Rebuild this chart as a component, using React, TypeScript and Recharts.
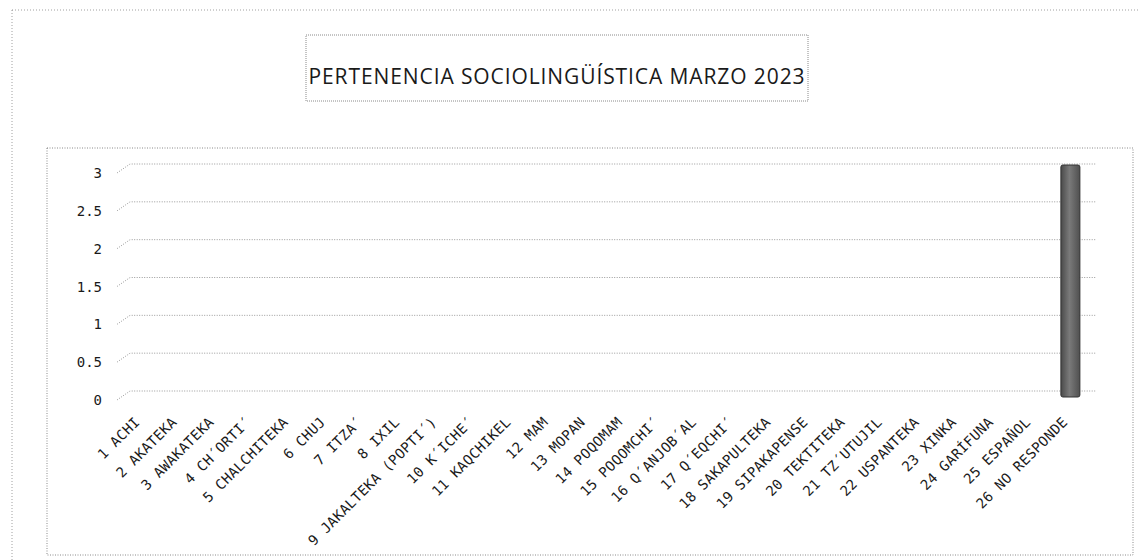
import { BarChart, Bar, XAxis, YAxis, CartesianGrid } from 'recharts'

const CATEGORIES = [
  '1 ACHI',
  '2 AKATEKA',
  '3 AWAKATEKA',
  '4 CH´ORTI´',
  '5 CHALCHITEKA',
  '6 CHUJ',
  '7 ITZA´',
  '8 IXIL',
  '9 JAKALTEKA (POPTI´)',
  '10 K´ICHE´',
  '11 KAQCHIKEL',
  '12 MAM',
  '13 MOPAN',
  '14 POQOMAM',
  '15 POQOMCHI´',
  '16 Q´ANJOB´AL',
  '17 Q´EQCHI´',
  '18 SAKAPULTEKA',
  '19 SIPAKAPENSE',
  '20 TEKTITEKA',
  '21 TZ´UTUJIL',
  '22 USPANTEKA',
  '23 XINKA',
  '24 GARÍFUNA',
  '25 ESPAÑOL',
  '26 NO RESPONDE',
]

const VALUES = [0, 0, 0, 0, 0, 0, 0, 0, 0, 0, 0, 0, 0, 0, 0, 0, 0, 0, 0, 0, 0, 0, 0, 0, 0, 3]

const Y_TICKS = [0, 0.5, 1, 1.5, 2, 2.5, 3]

const TITLE = 'PERTENENCIA SOCIOLINGÜÍSTICA MARZO 2023'

const data = CATEGORIES.map((name, i) => ({ name, value: VALUES[i] }))

const MONO = '"DejaVu Sans Mono", monospace'

function XTick({ x, y, payload }: any) {
  return (
    <text
      transform={`translate(${x - 2}, ${y + 24}) rotate(-45)`}
      textAnchor="end"
      style={{ fontFamily: MONO, fontSize: 14, fill: '#1a1a1a', letterSpacing: 0.3 }}
    >
      {payload.value}
    </text>
  )
}

function YTick({ y, payload }: any) {
  return (
    <text
      x={102}
      y={y + 9}
      textAnchor="end"
      dominantBaseline="central"
      style={{ fontFamily: MONO, fontSize: 14, fill: '#1a1a1a' }}
    >
      {payload.value}
    </text>
  )
}

// gridline with a little 3D floor step on the left
function GridLine(props: any) {
  const { y1, x2, index } = props
  return (
    <path
      key={`g-${index}`}
      d={`M 117 ${y1 + 9} L 130 ${y1} L ${x2 + 7} ${y1}`}
      fill="none"
      stroke="#9a9a9a"
      strokeWidth={1}
      strokeDasharray="1 1.5"
    />
  )
}

function Bar3D({ x, y, width, height }: any) {
  if (!height || height <= 0) return null
  return (
    <rect x={x} y={y + 1} width={width} height={height + 5} fill="url(#barGrad)" stroke="#333" strokeWidth={1} rx={2} />
  )
}

export default function App() {
  return (
    <div style={{ position: 'absolute', left: 0, top: 0, width: 1138, height: 560, background: '#fff' }}>
      <svg width={1138} height={560} style={{ position: 'absolute', left: 0, top: 0 }}>
        <rect x={12} y={10} width={1140} height={560} fill="none" stroke="#a0a0a0" strokeDasharray="1 2" />
        <rect x={47} y={148} width={1086} height={407} fill="none" stroke="#8a8a8a" strokeDasharray="1 1.5" />
        <rect x={306} y={35} width={502} height={66} fill="none" stroke="#8a8a8a" strokeDasharray="1 1" />
        <text
          x={557}
          y={84}
          textAnchor="middle"
          style={{ fontFamily: '"Open Sans", sans-serif', fontSize: 21, fill: '#1a1a1a', letterSpacing: 0.9 }}
        >
          {TITLE}
        </text>
      </svg>
      <div style={{ position: 'absolute', left: 0, top: 0 }}>
        <BarChart
          width={1138}
          height={560}
          data={data}
          margin={{ top: 164, right: 49, bottom: 9, left: 64 }}
          barSize={19}
        >
          <defs>
            <linearGradient id="barGrad" x1="0" y1="0" x2="1" y2="0">
              <stop offset="0%" stopColor="#4a4a4a" />
              <stop offset="45%" stopColor="#7a7a7a" />
              <stop offset="100%" stopColor="#505050" />
            </linearGradient>
          </defs>
          <CartesianGrid vertical={false} horizontal={GridLine as any} />
          <XAxis
            dataKey="name"
            interval={0}
            height={160}
            axisLine={false}
            tickLine={false}
            tick={<XTick />}
          />
          <YAxis
            width={60}
            domain={[0, 3]}
            ticks={Y_TICKS}
            axisLine={false}
            tickLine={false}
            tick={<YTick />}
          />
          <Bar dataKey="value" isAnimationActive={false} shape={<Bar3D />} />
        </BarChart>
      </div>
    </div>
  )
}
